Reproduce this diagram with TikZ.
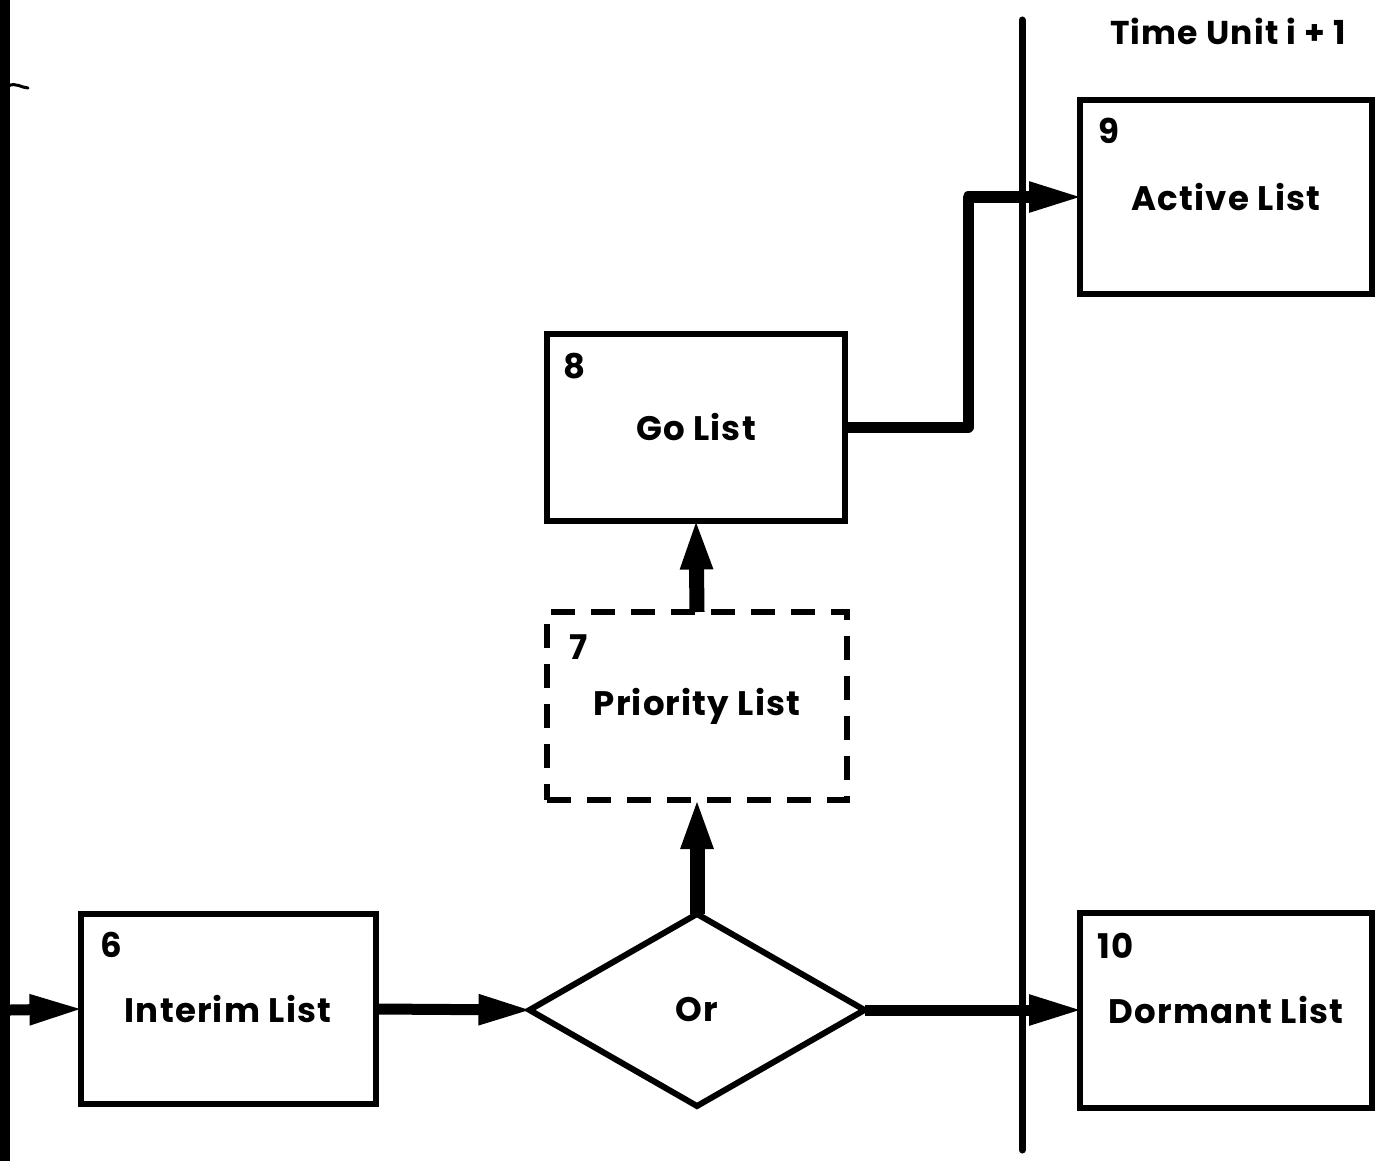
\documentclass[tikz,border=0pt]{standalone}
\usepackage{fontspec}
\setmainfont{Poppins}[LetterSpace=3.5]
\usetikzlibrary{arrows.meta,shapes.geometric,calc}
\tikzset{
  boxfont/.style={font=\fontsize{34}{36}\selectfont\bfseries},
  listbox/.style={draw, line width=6pt, rectangle, minimum width=295pt, minimum height=190pt, inner sep=0pt, outer sep=0pt, boxfont},
  dashbox/.style={listbox, dash pattern=on 24pt off 16pt},
  numlabel/.style={anchor=north west, inner sep=0pt, boxfont},
  flow/.style={line width=11pt, line join=round, shorten >=-3pt, -{Triangle[length=54pt,width=28pt]}},
  upflow/.style={line width=15pt, shorten >=-3pt, -{Triangle[length=52pt,width=29pt]}},
}
\begin{document}
\begin{tikzpicture}[x=1pt,y=-1pt]
\useasboundingbox[fill=white] (0,0) rectangle (1375,1161);

% boundary bar on the left and the time divider
\draw[line width=10pt] (5,0) -- (5,1161);
\draw[line width=3pt, line cap=round] (8,86) .. controls (16,82) and (22,88) .. (28,88);
\coordinate (barout) at (10,1010);
\draw[line width=7pt, line cap=round] (1022,20) -- (1022,1150);
\node[font=\fontsize{33}{35}\selectfont\bfseries] (timelabel) at (1228,31) {Time Unit i + 1};

% list boxes
\node[listbox] (interim) at (228,1009) {Interim List};
\node[numlabel] at ($(interim.north west)+(20,18)$) {6};
\node[listbox, minimum width=298pt, minimum height=187pt] (go) at (696,427) {Go List};
\node[numlabel] at ($(go.north west)+(16,19)$) {8};
\node[dashbox, minimum width=300pt, minimum height=188pt] (prio) at (697,706) {\raisebox{-3pt}{Priority List}};
\node[numlabel] at ($(prio.north west)+(22,23)$) {7};
\node[listbox, minimum width=292pt, minimum height=193pt] (active) at (1226,197) {Active List};
\node[numlabel] at ($(active.north west)+(18,17)$) {9};
\node[listbox, minimum width=292pt, minimum height=195pt] (dormant) at (1226,1010) {Dormant List};
\node[numlabel] at ($(dormant.north west)+(17,20)$) {10};

% decision
\node[draw, diamond, line width=6pt, aspect=1.75, minimum width=335pt, minimum height=192pt, inner sep=0pt, outer sep=0pt, boxfont] (or) at (697,1010) {Or};

% connectors
\coordinate (bend) at (968,0);
\draw[flow] (barout) -- (interim.west);
\draw[flow] (interim.east) -- (or.west);
\draw[flow] (or.east) -- (dormant.west);
\draw[upflow] (or.north) -- (prio.south);
\draw[upflow] (prio.north) -- (go.south);
\draw[flow] (go.east) -- (go.east -| bend) |- (active.west);
\end{tikzpicture}
\end{document}
